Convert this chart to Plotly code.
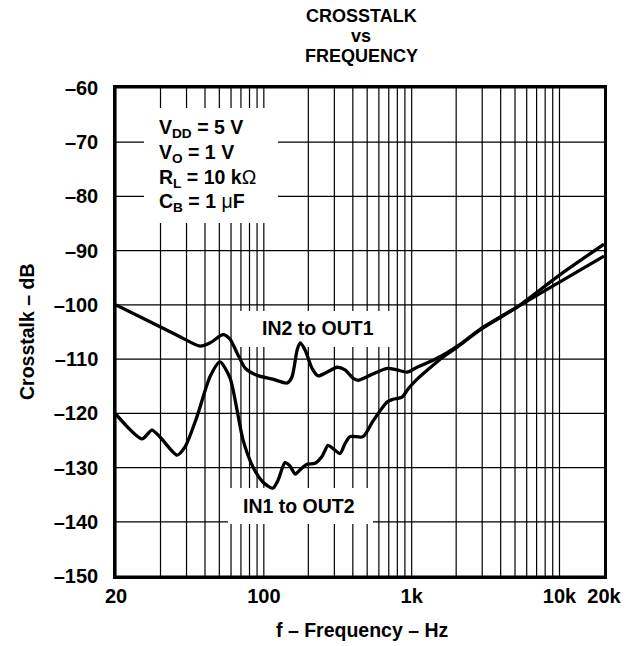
import plotly.graph_objects as go

# ---- data -------------------------------------------------------------
# Frequency positions on the log grid (grid decades start at 10; the left
# edge is labelled "20" on the printed axis) and crosstalk in dB.
in2_out1_freq = [10, 17.8, 25.9, 37, 43.3, 53, 59, 66, 75, 90, 115, 144, 155,
                 168, 176, 190, 212, 233, 268, 313, 354, 401, 434, 523, 682,
                 796, 931, 1089, 1396, 1737, 2125, 2901, 5164, 10000, 20000]
in2_out1_db = [-100, -103.4, -105.6, -107.6, -107.0, -105.5, -106.3, -108.9,
               -111.7, -113.0, -113.7, -114.4, -113.3, -108.3, -107.0, -108.3,
               -111.7, -113.1, -112.4, -111.5, -112.0, -113.5, -113.9, -113.0,
               -111.7, -112.0, -112.4, -111.5, -110.2, -108.8, -107.3, -104.5,
               -100.4, -95.8, -91.0]

in1_out2_freq = [10, 15, 17.5, 19.9, 25.9, 29.3, 35.3, 43.3, 50.5, 59.1, 65.9,
                 72.3, 84.5, 98.8, 115, 125, 139, 150, 163, 176, 196, 222, 248,
                 272, 294, 328, 354, 383, 469, 548, 682, 748, 861, 946, 1089,
                 1332, 1631, 2029, 2901, 5164, 10000, 20000]
in1_out2_db = [-120.2, -124.7, -123.1, -124.4, -127.7, -126.2, -120.6, -113.2,
               -110.5, -113.5, -119.4, -124.9, -129.9, -132.7, -133.8, -132.3,
               -129.1, -129.7, -131.2, -130.4, -129.4, -129.2, -127.9, -125.9,
               -126.5, -127.4, -125.6, -124.3, -124.3, -121.4, -117.9, -117.4,
               -117.0, -115.5, -113.7, -111.6, -109.6, -107.8, -104.6, -100.4,
               -94.5, -88.8]

x_tick_vals = [10, 100, 1000, 10000, 20000]
x_tick_text = ["20", "100", "1k", "10k", "20k"]
x_grid_minor = [20, 30, 40, 50, 60, 70, 80, 90,
                200, 300, 400, 500, 600, 700, 800, 900,
                2000, 3000, 4000, 5000, 6000, 7000, 8000, 9000]
y_tick_vals = [-60, -70, -80, -90, -100, -110, -120, -130, -140, -150]
y_tick_text = ["–60", "–70", "–80", "–90", "–100", "–110", "–120", "–130",
               "–140", "–150"]

conditions = ["V<sub>DD</sub> = 5 V",
              "V<sub>O</sub> = 1 V",
              "R<sub>L</sub> = 10 k<span style=\"font-weight:normal\">Ω</span>",
              "C<sub>B</sub> = 1 <span style=\"font-weight:normal\">μ</span>F"]

# ---- layout geometry (pixels) -----------------------------------------
W, H = 640, 646
L, R, T, B = 116, 36, 88, 70
PW, PH = W - L - R, H - T - B
X_MIN, X_MAX = 10, 20000
X_LOG0, X_LOG1 = 1.0, 4.30103
Y0, Y1 = -150, -60
FONT = "Liberation Sans, Arial, sans-serif"


def px(xp):
    return (xp - L) / PW


def py(yp):
    return (H - B - yp) / PH


def x_val(xp):
    # pixel column -> x-axis value on the log scale
    return 10 ** (X_LOG0 + px(xp) * (X_LOG1 - X_LOG0))


def y_val(yp):
    return Y0 + py(yp) * (Y1 - Y0)


fig = go.Figure()

# grid: drawn as a trace so the white label panels can sit on top of it
gx, gy = [], []
for v in x_tick_vals[:-1] + x_grid_minor:
    gx += [v, v, None]
    gy += [Y0, Y1, None]
for v in y_tick_vals:
    gx += [X_MIN, X_MAX, None]
    gy += [v, v, None]
fig.add_trace(go.Scatter(x=gx, y=gy, mode="lines", hoverinfo="skip",
                         line=dict(color="black", width=1.2)))

# white panels behind the text blocks
white_boxes = [(144, 108, 278, 223), (240, 311, 394, 347), (228, 488, 373, 524)]
for x0, y0, x1, y1 in white_boxes:
    fig.add_trace(go.Scatter(
        x=[x_val(x0), x_val(x1), x_val(x1), x_val(x0), x_val(x0)],
        y=[y_val(y0), y_val(y0), y_val(y1), y_val(y1), y_val(y0)],
        mode="lines", fill="toself", fillcolor="white",
        line=dict(width=0, color="white"), hoverinfo="skip"))

line_style = dict(color="black", width=3.3, shape="spline", smoothing=0.7)
fig.add_trace(go.Scatter(x=in2_out1_freq, y=in2_out1_db, mode="lines",
                         line=line_style, name="IN2 to OUT1"))
fig.add_trace(go.Scatter(x=in1_out2_freq, y=in1_out2_db, mode="lines",
                         line=line_style, name="IN1 to OUT2"))

bold = dict(family=FONT, size=19.5, color="black", weight="bold")
annotations = []
for i, txt in enumerate(conditions):
    annotations.append(dict(text=txt, x=px(157), y=py(128 + 25 * i),
                            xanchor="left", yanchor="middle"))
annotations += [
    dict(text="IN2 to OUT1", x=px(318), y=py(328), xanchor="center", yanchor="middle"),
    dict(text="IN1 to OUT2", x=px(299), y=py(506), xanchor="center", yanchor="middle"),
    dict(text="f – Frequency – Hz", x=px(362), y=py(630), xanchor="center", yanchor="middle"),
    dict(text="Crosstalk – dB", x=px(27), y=py(332), xanchor="center", yanchor="middle",
         textangle=-90),
]
title_font = dict(family=FONT, size=18, color="black", weight="bold")
for txt, yp in [("CROSSTALK", 16), ("vs", 36), ("FREQUENCY", 56)]:
    annotations.append(dict(text=txt, x=px(361), y=py(yp), xanchor="center",
                            yanchor="middle", font=title_font))
for a in annotations:
    a.setdefault("font", bold)
    a.update(xref="paper", yref="paper", showarrow=False)

tick_font = dict(family=FONT, size=20, color="black", weight="bold")

fig.update_layout(
    width=W, height=H,
    margin=dict(l=L, r=R, t=T, b=B, pad=0),
    paper_bgcolor="white", plot_bgcolor="white",
    showlegend=False,
    annotations=annotations,
    font=dict(family=FONT, color="black"),
)

fig.update_xaxes(
    type="log", range=[X_LOG0, X_LOG1],
    tickmode="array", tickvals=x_tick_vals, ticktext=x_tick_text,
    tickfont=tick_font, ticks="", ticklabelstandoff=0,
    showgrid=False,
    showline=True, linecolor="black", linewidth=2.5, mirror=True,
    zeroline=False,
)
fig.update_yaxes(
    range=[Y0, Y1],
    tickmode="array", tickvals=y_tick_vals, ticktext=y_tick_text,
    tickfont=tick_font, ticks="", ticklabelstandoff=11,
    showgrid=False,
    showline=True, linecolor="black", linewidth=2.5, mirror=True,
    zeroline=False,
)

fig.write_html("out.html")
